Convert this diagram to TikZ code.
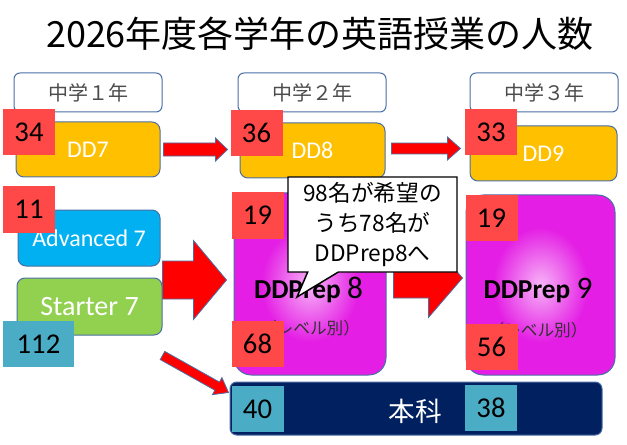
\documentclass[tikz,border=0pt]{standalone}
\usepackage{fontspec}
\setmainfont{Carlito}
\newfontfamily\jpfont{Noto Sans CJK JP}
\usepackage{xcolor}
\usepackage{tikz}
\usetikzlibrary{calc,shapes.callouts}
\definecolor{outline}{HTML}{4A6FA5}
\definecolor{gold}{HTML}{FFC000}
\definecolor{sky}{HTML}{00B0F0}
\definecolor{leaf}{HTML}{92D050}
\definecolor{navy}{HTML}{002060}
\definecolor{tagred}{HTML}{FF4848}
\definecolor{tagblue}{HTML}{4BACC6}
\definecolor{glowin}{HTML}{F7B4F7}
\definecolor{glowmid}{HTML}{E41EE4}
\definecolor{glowout}{HTML}{B010B0}
\pgfdeclareradialshading{prepglow}{\pgfpoint{0bp}{0bp}}{color(0bp)=(glowin); color(16bp)=(glowmid); color(40bp)=(glowmid); color(62bp)=(glowout)}
\tikzset{
  gradebox/.style={draw=outline, line width=0.75pt, fill=white, rounded corners=4.5pt, minimum width=111pt, minimum height=29.25pt, text=black!70, font=\jpfont\fontsize{15}{18}\selectfont},
  classbox/.style={draw=outline, line width=0.75pt, rounded corners=6pt, minimum height=41.25pt, text=white},
  prepbox/.style={draw=outline, line width=0.75pt, rounded corners=13pt, shade, shading=prepglow},
  numtag/.style={inner sep=0pt, minimum width=39pt, minimum height=34.5pt, font=\fontsize{21.5}{24}\selectfont},
  redtag/.style={numtag, fill=tagred},
  bluetag/.style={numtag, fill=tagblue},
  redarrow/.style={fill=red, draw=outline, line width=0.6pt},
}
\newcommand\blockarrow[5]{%
  \coordinate (bah) at ($(#2)!#5!(#1)$);
  \draw[redarrow] ($(#1)!#3!90:(#2)$) -- ($(bah)!#3!90:(#2)$) -- ($(bah)!#4!90:(#2)$) -- (#2)
    -- ($(bah)!#4!-90:(#2)$) -- ($(bah)!#3!-90:(#2)$) -- ($(#1)!#3!-90:(#2)$) -- cycle;}

\begin{document}
\begin{tikzpicture}[x=0.75pt,y=-0.75pt]
  \useasboundingbox (0,0) rectangle (627,445);

  \node[font=\jpfont\fontsize{27}{32}\selectfont] (title) at (320,34) {2026年度各学年の英語授業の人数};

  \node[gradebox] (grade1) at (88,92.5) {中学１年};
  \node[gradebox] (grade2) at (312,92.5) {中学２年};
  \node[gradebox] (grade3) at (544,92.5) {中学３年};

  \node[classbox, fill=gold, minimum width=108pt, font=\fontsize{18}{20}\selectfont] (dd7) at (88,149.5) {DD7};
  \node[classbox, fill=gold, minimum width=108.75pt, font=\fontsize{18}{20}\selectfont] (dd8) at (312.5,150.5) {DD8};
  \node[classbox, fill=gold, minimum width=110.25pt, font=\fontsize{18}{20}\selectfont] (dd9) at (543.5,153.5) {DD9};
  \node[classbox, fill=sky, minimum width=106.5pt, minimum height=42pt, font=\fontsize{18}{20}\selectfont] (adv7) at (89,238) {Advanced 7};
  \node[classbox, fill=leaf, minimum width=108.75pt, minimum height=42.75pt, font=\fontsize{21}{24}\selectfont] (start7) at (89.5,306.5) {Starter 7};

  \coordinate (a1from) at ($(dd7.east)+(3,0)$);
  \coordinate (a1to) at ($(dd7.east -| dd8.west)+(-12,0)$);
  \blockarrow{a1from}{a1to}{4.9pt}{8.6pt}{9pt}
  \coordinate (a2from) at ($(dd8.east)+(6,-2)$);
  \coordinate (a2to) at ($(a2from -| dd9.west)+(-9,0)$);
  \blockarrow{a2from}{a2to}{4.1pt}{8.6pt}{9.75pt}

  \node[prepbox, minimum width=114pt, minimum height=136.5pt] (prep8) at (310,284) {};
  \node[prepbox, minimum width=111.75pt, minimum height=135pt] (prep9) at (540.5,285) {};

  \coordinate (bigto) at ($(prep8.west)+(-7,-4)$);
  \coordinate (bigfrom) at ($(bigto -| adv7.east)+(2,0)$);
  \blockarrow{bigfrom}{bigto}{14.25pt}{29.6pt}{24.75pt}
  \coordinate (midfrom) at ($(prep8.east)+(7,-6)$);
  \coordinate (midto) at ($(midfrom -| prep9.west)+(-3,0)$);
  \blockarrow{midfrom}{midto}{15pt}{29.6pt}{25.5pt}

  \node[anchor=base] (prep8name) at (308.5,298) {{\fontsize{20.5}{24}\selectfont\bfseries DDPrep }{\fontsize{23.5}{24}\selectfont 8}};
  \node[font=\jpfont\fontsize{12.5}{15}\selectfont, text=black!80] (prep8note) at (310,328) {（レベル別）};
  \node[anchor=base] (prep9name) at (538,298) {{\fontsize{20.5}{24}\selectfont\bfseries DDPrep }{\fontsize{23.5}{24}\selectfont 9}};
  \node[font=\jpfont\fontsize{12.5}{15}\selectfont, text=black!80] (prep9note) at (537.5,330) {（レベル別）};

  \node[classbox, fill=navy, minimum width=279pt, minimum height=39.75pt, rounded corners=5pt] (honka) at (416,408.5) {};
  \node[font=\jpfont\fontsize{20}{24}\selectfont, text=white] (honkalabel) at (415,411) {本科};

  \coordinate (diagfrom) at ($(start7.south east)+(0,20)$);
  \coordinate (diagto) at ($(honka.north west)+(-1,11)$);
  \blockarrow{diagfrom}{diagto}{3.5pt}{7.3pt}{9.75pt}

  \node[redtag] (n34) at (29,132.5) {34};
  \node[redtag] (n36) at (256.5,133) {36};
  \node[redtag] (n33) at (491,132.5) {33};
  \node[redtag] (n11) at (29,209.5) {11};
  \node[redtag] (n19a) at (257.5,215.5) {19};
  \node[redtag] (n68) at (257.5,344) {68};
  \node[redtag] (n19b) at (491.5,218) {19};
  \node[redtag] (n56) at (491.5,346.5) {56};
  \node[bluetag, minimum width=53.25pt] (n112) at (38.5,344) {112};
  \node[bluetag] (n40) at (257.5,409) {40};
  \node[bluetag] (n38) at (491,408) {38};

  \node[rectangle callout, draw=black, line width=1.1pt, fill=white, inner sep=0pt, minimum width=126.75pt, minimum height=71.25pt, callout absolute pointer={(297,297)}, callout pointer width=23pt, align=center, font=\jpfont\fontsize{17}{22.5}\selectfont] (bubble) at (372.5,224.5) {98名が希望の\\うち78名が\\DDPrep8へ};
\end{tikzpicture}
\end{document}
